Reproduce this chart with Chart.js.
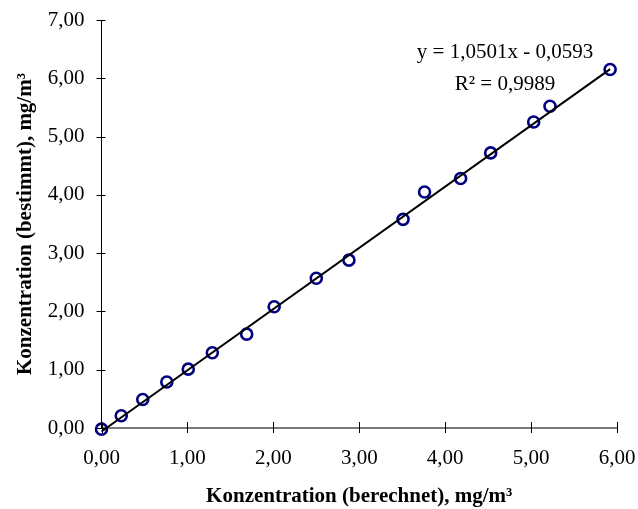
<!DOCTYPE html>
<html>
<head>
<meta charset="utf-8">
<script src="https://cdn.jsdelivr.net/npm/chart.js@4/dist/chart.umd.min.js"></script>
<style>
  html, body { margin: 0; padding: 0; background: #fff; }
  #wrap { width: 638px; height: 509px; }
</style>
</head>
<body>
<div id="wrap"><canvas id="kalibChart" width="638" height="509"></canvas></div>
<script>
// berechnete vs. bestimmte Konzentration, mg/m3
const xBerechnet = [0.00, 0.23, 0.48, 0.76, 1.01, 1.29, 1.69, 2.01, 2.50, 2.88, 3.51, 3.76, 4.18, 4.53, 5.03, 5.22, 5.92]
const yBestimmt  = [-0.02, 0.21, 0.49, 0.79, 1.01, 1.29, 1.61, 2.08, 2.57, 2.88, 3.58, 4.05, 4.28, 4.72, 5.25, 5.52, 6.15]

// lineare Regression (aus Excel)
const steigung = 1.0501
const achsenabschnitt = -0.0593
const bestimmtheit = 0.9989

const xTicks = [0, 1, 2, 3, 4, 5, 6]
const yTicks = [0, 1, 2, 3, 4, 5, 6, 7]

const serif = '"Liberation Serif", "Times New Roman", serif'

function komma(v, n) {
  return v.toFixed(n).replace('.', ',')
}

let messpunkte = xBerechnet.map((x, i) => ({ x: x, y: yBestimmt[i] }))
let xMin = Math.min.apply(null, xBerechnet)
let xMax = Math.max.apply(null, xBerechnet)
let trendlinie = [
  { x: xMin, y: steigung * xMin + achsenabschnitt },
  { x: xMax, y: steigung * xMax + achsenabschnitt }
]

// Teilstriche, die die Achse kreuzen (wie in Excel)
const kreuzTicks = {
  id: 'kreuzTicks',
  afterDraw(chart) {
    let ctx = chart.ctx
    let xs = chart.scales.x, ys = chart.scales.y
    let a = chart.chartArea
    ctx.save()
    ctx.strokeStyle = '#000'
    ctx.lineWidth = 1
    ctx.beginPath()
    yTicks.forEach(v => {
      let py = Math.round(ys.getPixelForValue(v)) + 0.5
      ctx.moveTo(a.left - 5, py)
      ctx.lineTo(a.left + 4, py)
    })
    xTicks.forEach(v => {
      let px = Math.round(xs.getPixelForValue(v)) + 0.5
      ctx.moveTo(px, a.bottom - 6)
      ctx.lineTo(px, a.bottom + 5)
    })
    ctx.stroke()
    ctx.restore()
  }
}

// Regressionsgleichung rechts oben
const gleichung = {
  id: 'gleichung',
  afterDraw(chart) {
    let ctx = chart.ctx
    ctx.save()
    ctx.fillStyle = '#000'
    ctx.font = '21px ' + serif
    ctx.textAlign = 'center'
    ctx.textBaseline = 'alphabetic'
    let vz = achsenabschnitt < 0 ? ' - ' : ' + '
    ctx.fillText('y = ' + komma(steigung, 4) + 'x' + vz + komma(Math.abs(achsenabschnitt), 4), 505, 58)
    ctx.fillText('R\u00B2 = ' + komma(bestimmtheit, 4), 505, 90)
    ctx.restore()
  }
}

new Chart(document.getElementById('kalibChart').getContext('2d'), {
  type: 'scatter',
  data: {
    datasets: [
      {
        label: 'Messwerte',
        data: messpunkte,
        pointStyle: 'circle',
        pointRadius: 5.5,
        pointBorderWidth: 2.6,
        pointBorderColor: '#000080',
        pointBackgroundColor: 'rgba(0,0,0,0)',
        clip: false,
        order: 2
      },
      {
        label: 'Linear',
        type: 'line',
        data: trendlinie,
        borderColor: '#000',
        borderWidth: 2,
        pointRadius: 0,
        fill: false,
        clip: false,
        order: 1
      }
    ]
  },
  options: {
    responsive: false,
    animation: false,
    events: [],
    layout: { padding: { top: 20, right: 21, left: 0, bottom: 0 } },
    plugins: {
      legend: { display: false },
      tooltip: { enabled: false }
    },
    scales: {
      x: {
        type: 'linear',
        min: 0,
        max: 6,
        afterFit(scale) {
          scale.height = 81
          scale.paddingLeft = 0
          scale.paddingRight = 0
        },
        afterBuildTicks(scale) { scale.ticks = xTicks.map(v => ({ value: v })) },
        grid: { display: false, drawTicks: false },
        border: { display: true, color: '#7a7a7a', width: 2 },
        ticks: {
          padding: 18,
          color: '#000',
          font: { family: serif, size: 21 },
          maxRotation: 0,
          callback: v => komma(v, 2)
        },
        title: {
          display: true,
          text: 'Konzentration (berechnet), mg/m\u00B3',
          color: '#000',
          font: { family: serif, size: 21, weight: 'bold' },
          padding: { top: 0, bottom: 0 }
        }
      },
      y: {
        type: 'linear',
        min: 0,
        max: 7,
        afterFit(scale) {
          scale.width = 101.5
          scale.paddingTop = 0
          scale.paddingBottom = 0
        },
        afterBuildTicks(scale) { scale.ticks = yTicks.map(v => ({ value: v })) },
        grid: { display: false, drawTicks: false },
        border: { display: true, color: '#000', width: 1 },
        ticks: {
          padding: 17,
          color: '#000',
          font: { family: serif, size: 21 },
          callback: v => komma(v, 2)
        },
        title: {
          display: true,
          text: 'Konzentration (bestimmt), mg/m\u00B3',
          color: '#000',
          font: { family: serif, size: 21, weight: 'bold' },
          padding: { top: 13, bottom: 0 }
        }
      }
    }
  },
  plugins: [kreuzTicks, gleichung]
})
</script>
</body>
</html>
